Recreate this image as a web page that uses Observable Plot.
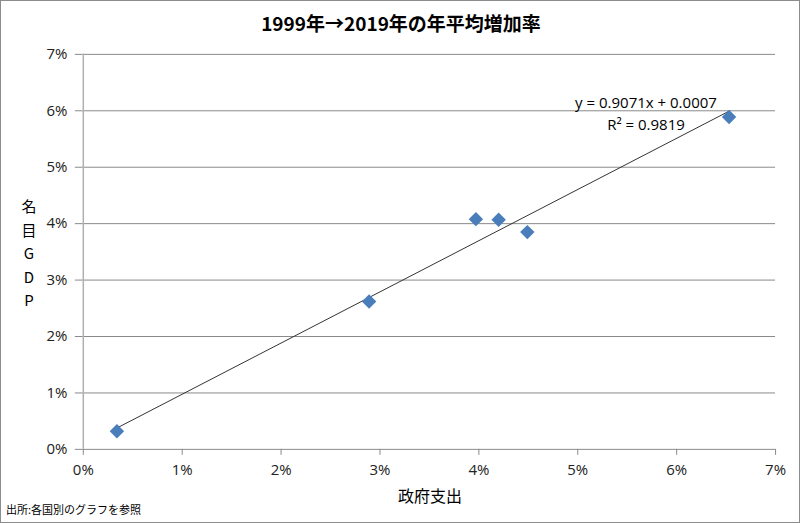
<!DOCTYPE html>
<html>
<head>
<meta charset="utf-8">
<script src="https://cdn.jsdelivr.net/npm/d3@7"></script>
<script src="https://cdn.jsdelivr.net/npm/@observablehq/plot@0.6"></script>
<style>
  html, body { margin: 0; padding: 0; background: #fff; }
  #wrap { position: relative; width: 800px; height: 523px; box-sizing: border-box; border: 1px solid #8c8c8c; overflow: hidden; font-family: "Noto Sans CJK JP", "Open Sans", sans-serif; }
  #wrap svg { position: absolute; left: -1px; top: -1px; }
  .abs { position: absolute; white-space: nowrap; color: #000; }
  #title { left: 0; width: 800px; top: 8px; text-align: center; font-size: 19px; font-weight: bold; }
  #ylab { left: 17px; top: 193px; font-size: 15px; line-height: 23.5px; text-align: center; width: 22px; }
  #xlab { left: 82px; width: 694px; top: 482px; text-align: center; font-size: 16px; }
  #cap { left: 5px; top: 500px; font-size: 11px; }
  #eq { left: 545px; width: 200px; top: 90px; text-align: center; font-size: 15px; line-height: 22px; font-family: "Open Sans", sans-serif; }
</style>
</head>
<body>
<div id="wrap">
  <div class="abs" id="title">1999年→2019年の年平均増加率</div>
  <div class="abs" id="ylab"></div>
  <div class="abs" id="xlab"></div>
  <div class="abs" id="cap">出所:各国別のグラフを参照</div>
  <div class="abs" id="eq"></div>
</div>
<script>
// Data (fractions)
const govSpending = [0.0034, 0.0289, 0.0397, 0.0420, 0.0449, 0.0653];
const nominalGDP  = [0.0032, 0.0262, 0.0408, 0.0407, 0.0385, 0.0589];
const trendSlope = 0.9071;
const trendIntercept = 0.0007;
const rSquared = 0.9819;
const xTicks = [0, 0.01, 0.02, 0.03, 0.04, 0.05, 0.06, 0.07];
const yTicks = [0, 0.01, 0.02, 0.03, 0.04, 0.05, 0.06, 0.07];
const xLabel = "政府支出";
const yLabelChars = ["名", "目", "G", "D", "P"];

const points = govSpending.map((x, i) => ({x, y: nominalGDP[i]}));
const xmin = d3.min(govSpending), xmax = d3.max(govSpending);
const trend = [xmin, xmax].map(x => ({x, y: trendSlope * x + trendIntercept}));

document.getElementById("ylab").innerHTML = yLabelChars.map(c => `<div>${c}</div>`).join("");
document.getElementById("xlab").textContent = xLabel;
document.getElementById("eq").innerHTML =
  `y = ${trendSlope.toFixed(4)}x + ${trendIntercept.toFixed(4)}<br>R² = ${rSquared.toFixed(4)}`;

const pct = d3.format(".0%");
const chart = Plot.plot({
  width: 800,
  height: 523,
  marginLeft: 83,
  marginRight: 23,
  marginTop: 54,
  marginBottom: 73,
  style: { fontFamily: "'Open Sans', sans-serif", fontSize: "15px", color: "#222", background: "transparent" },
  x: { domain: [0, 0.07], ticks: xTicks, tickFormat: pct },
  y: { domain: [0, 0.07], ticks: yTicks, tickFormat: pct },
  marks: [
    Plot.gridY(yTicks.filter(d => d > 0), { stroke: "#8a8a8a", strokeOpacity: 1, strokeWidth: 1 }),
    Plot.axisY({ ticks: yTicks, tickFormat: pct, tickSize: 8, tickPadding: 8, label: null, stroke: "#8a8a8a", fill: "#222", fontSize: 15 }),
    Plot.axisX({ ticks: xTicks, tickFormat: pct, tickSize: 6, tickPadding: 9, label: null, stroke: "#8a8a8a", fill: "#222", fontSize: 15 }),
    Plot.ruleX([0], { stroke: "#b0b0b0", strokeWidth: 1.5 }),
    Plot.ruleY([0], { stroke: "#8a8a8a" }),
    Plot.line(trend, { x: "x", y: "y", stroke: "#333", strokeWidth: 1 }),
    Plot.dot(points, { x: "x", y: "y", symbol: "diamond2", r: 6.5, fill: "#4a7ebb", stroke: "none" })
  ]
});
document.getElementById("wrap").prepend(chart);
</script>
</body>
</html>
